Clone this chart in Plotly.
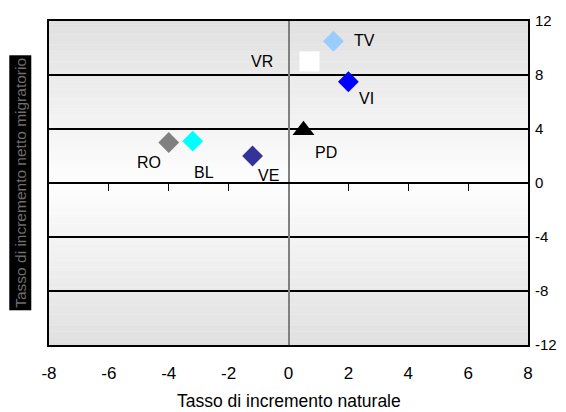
import plotly.graph_objects as go

# Province codes with natural and net migration increase rates
province = ["TV", "VR", "VI", "PD", "RO", "BL", "VE"]
tasso_naturale = [1.5, 0.7, 2.0, 0.5, -4.0, -3.2, -1.2]
tasso_migratorio = [10.5, 9.0, 7.5, 3.9, 3.0, 3.1, 2.0]

x_ticks = [-8, -6, -4, -2, 0, 2, 4, 6, 8]
y_ticks = [-12, -8, -4, 0, 4, 8, 12]

# marker look for each province
marker_style = {
    "TV": dict(symbol="diamond", color="#99ccff", size=16),
    "VR": dict(symbol="square", color="#ffffff", size=20),
    "VI": dict(symbol="diamond", color="#0000ff", size=16),
    "PD": dict(symbol="triangle-up", color="#000000", size=19),
    "RO": dict(symbol="diamond", color="#808080", size=16),
    "BL": dict(symbol="diamond", color="#00ffff", size=16),
    "VE": dict(symbol="diamond", color="#333399", size=16),
}
# label offsets in pixels (right, up)
label_shift = {
    "TV": (31, 1),
    "VR": (-47, 0),
    "VI": (18, -17),
    "PD": (23, -22),
    "RO": (-20, -20),
    "BL": (11, -31),
    "VE": (16, -19),
}

FONT = "Liberation Sans, Arial, sans-serif"
Y_MIN, Y_MAX = -12, 12
X_MIN, X_MAX = -8, 8

fig = go.Figure()

# vertical grey gradient under the grid: darker at the edges, white at zero
n_strips = 96
lo_rgb, hi_rgb = 0xE0, 0xFE
step = (Y_MAX - Y_MIN) / n_strips
for i in range(n_strips):
    y0 = Y_MIN + i * step
    mid = y0 + step / 2
    t = abs(mid) / Y_MAX
    g = round(hi_rgb + (lo_rgb - hi_rgb) * t)
    fig.add_shape(
        type="rect", xref="x", yref="y",
        x0=X_MIN, x1=X_MAX, y0=y0, y1=y0 + step + 0.01,
        fillcolor=f"rgb({g},{g},{g})", line=dict(width=0), layer="below",
    )

fig.add_trace(go.Scatter(
    x=tasso_naturale, y=tasso_migratorio, mode="markers",
    text=province, hoverinfo="text",
    marker=dict(
        symbol=[marker_style[p]["symbol"] for p in province],
        color=[marker_style[p]["color"] for p in province],
        size=[marker_style[p]["size"] for p in province],
        opacity=1,
        line=dict(width=0),
    ),
    showlegend=False,
))

# empty trace holding the tick axis that runs along y = 0
fig.add_trace(go.Scatter(x=[], y=[], xaxis="x2", showlegend=False, hoverinfo="skip"))

for p, xv, yv in zip(province, tasso_naturale, tasso_migratorio):
    dx, dy = label_shift[p]
    fig.add_annotation(
        x=xv, y=yv, text=p, showarrow=False,
        xshift=dx, yshift=dy, xanchor="center", yanchor="middle",
        font=dict(family=FONT, size=16, color="#000000"),
    )

# y-axis title in a black box
fig.add_annotation(
    xref="paper", yref="paper", x=-0.085, y=0.5,
    text="Tasso di incremento netto migratorio", showarrow=False,
    textangle=-90, bgcolor="#000000", borderpad=2,
    font=dict(family=FONT, size=15.5, color="#6e6e6e"),
)

# x-axis title
fig.add_annotation(
    xref="paper", yref="paper", x=0.5, y=-0.172,
    xanchor="center", yanchor="middle",
    text="Tasso di incremento naturale", showarrow=False,
    font=dict(family=FONT, size=17.5, color="#000000"),
)

fig.update_layout(
    width=566, height=412,
    margin=dict(l=49, r=38, t=21, b=67),
    paper_bgcolor="#ffffff", plot_bgcolor="rgba(0,0,0,0)",
    font=dict(family=FONT, size=16, color="#000000"),
    xaxis=dict(
        range=[X_MIN, X_MAX], tickvals=x_ticks, ticktext=[str(v) for v in x_ticks],
        ticks="", showgrid=False, tickfont=dict(size=17),
        zeroline=True, zerolinecolor="#808080", zerolinewidth=2,
        showline=True, linecolor="#000000", linewidth=2, mirror=True,
        ticklabelstandoff=12, automargin=False,
        fixedrange=True,
    ),
    xaxis2=dict(
        range=[X_MIN, X_MAX], overlaying="x", anchor="free", position=0.5, side="top",
        tickvals=[-6, -4, -2, 2, 4, 6], ticks="inside", ticklen=7,
        tickcolor="#000000", tickwidth=1, showticklabels=False, automargin=False,
        showgrid=False, zeroline=False, showline=False, fixedrange=True,
    ),
    yaxis=dict(
        range=[Y_MIN, Y_MAX], tickvals=y_ticks, ticktext=[str(v) for v in y_ticks],
        side="right", ticks="", automargin=False,
        showgrid=True, gridcolor="#000000", gridwidth=1.5,
        zeroline=True, zerolinecolor="#000000", zerolinewidth=1.5,
        showline=True, linecolor="#000000", linewidth=2, mirror=True,
        ticklabelstandoff=2, tickfont=dict(size=15),
        fixedrange=True,
    ),
)

fig.write_html("out.html")
